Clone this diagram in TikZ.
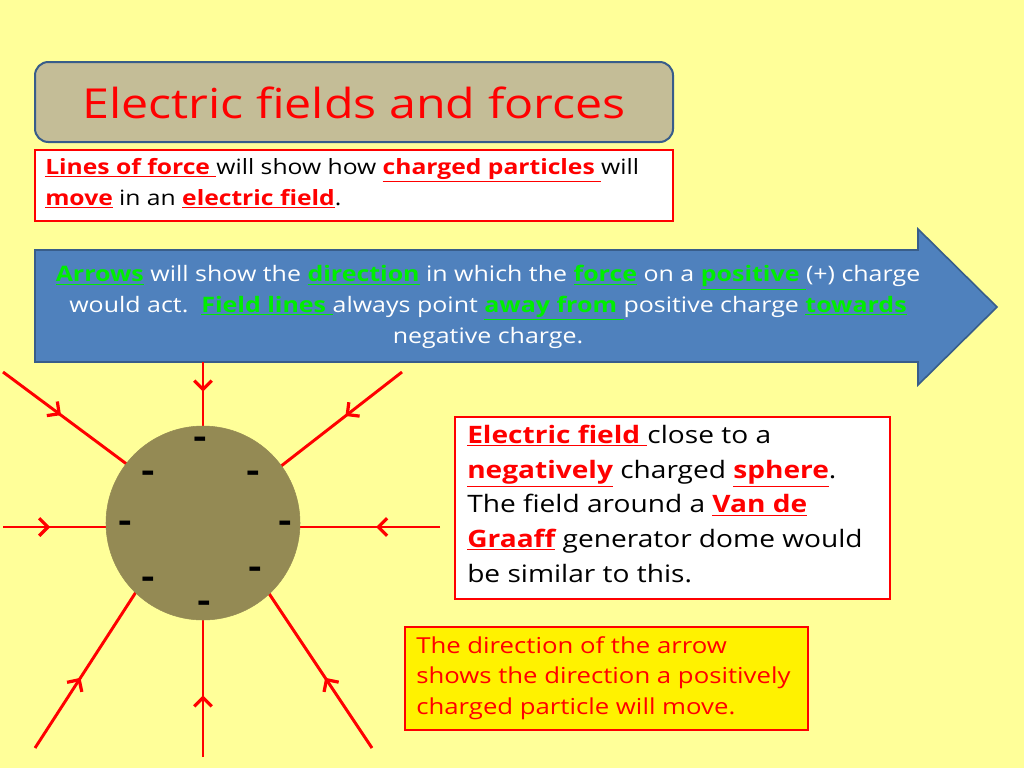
\documentclass[tikz,border=0pt]{standalone}
\usepackage{fontspec}
\setmainfont[FakeStretch=1.17]{Open Sans}
\usetikzlibrary{arrows.meta,decorations.markings}
\definecolor{bg}{HTML}{FFFF99}
\definecolor{tan}{HTML}{C4BD97}
\definecolor{frame}{HTML}{385D8A}
\definecolor{arrowblue}{HTML}{4F81BD}
\definecolor{olive}{HTML}{948A54}
\definecolor{gr}{HTML}{00EE00}
\newcommand{\rw}[1]{\textcolor{red}{\textbf{\underline{#1}}}}
\newcommand{\gw}[1]{\textcolor{gr}{\textbf{\underline{#1}}}}
\tikzset{
  fl/.style={red,line width=2.2pt,postaction={decorate},decoration={markings,mark=at position 0.45 with {\arrow[scale=1.1]{Straight Barb[length=6pt,width=12pt]}}}},
  minus/.style={font=\fontsize{26}{26}\selectfont\bfseries},
}
\begin{document}
\begin{tikzpicture}[x=0.75pt,y=-0.75pt]
\useasboundingbox (0,0) rectangle (1024,768);
\fill[bg] (0,0) rectangle (1024,768);
% title
\draw[frame,line width=1.5pt,fill=tan,rounded corners=10pt] (35,62) rectangle (673,142);
\node[red,font=\fontsize{31}{31}\selectfont] (title) at (354,103) {Electric fields and forces};
% box 1
\draw[red,line width=0.8pt,fill=white] (35,150) rectangle (673,221);
\node[anchor=north west,align=left,font=\fontsize{15.8}{23}\selectfont,inner sep=0pt] (b1) at (45,158)
 {\rw{Lines of force }will show how \rw{charged particles }will\\ \rw{move} in an \rw{electric field}.};
% big arrow
\draw[frame,line width=1.2pt,fill=arrowblue] (35,250) -- (918,250) -- (918,229) -- (997,307) -- (918,385) -- (918,362) -- (35,362) -- cycle;
\node[white,align=center,font=\fontsize{16}{23}\selectfont] (arr) at (488,307)
 {\gw{Arrows} will show the \gw{direction} in which the \gw{force} on a \gw{positive }(+) charge\\
 would act.\ \ \gw{Field lines }always point \gw{away from }positive charge \gw{towards}\\ negative charge.};
% field lines
\coordinate (c) at (203,523);
\draw[fl] (203,362) -- (203,428);
\draw[fl] (203,757) -- (203,620);
\draw[fl] (3,527) -- (108,527);
\draw[fl] (440,527) -- (298,527);
\draw[fl] (3,372) -- (132,468);
\draw[fl] (402,372) -- (276,470);
\draw[fl] (35,748) -- (136,592);
\draw[fl] (372,748) -- (268,592);
% sphere
\draw[fill=olive,draw=olive] (c) circle (97);
\foreach \x/\y [count=\i] in {200/443,148/477,253/477,125/527,285/527,148/583,255/573,204/607}
  \node[minus] (m\i) at (\x,\y) {-};
% box 2
\draw[red,line width=0.8pt,fill=white] (455,417) rectangle (890,599);
\node[anchor=north west,align=left,font=\fontsize{18}{26}\selectfont,inner sep=0pt] (b2) at (467,425)
 {\rw{Electric field }close to a\\ \rw{negatively} charged \rw{sphere}.\\ The field around a \rw{Van de}\\ \rw{Graaff} generator dome would\\ be similar to this.};
% box 3
\draw[red,line width=0.8pt,fill=yellow] (405,627) rectangle (808,730);
\node[anchor=north west,align=left,red,font=\fontsize{16.5}{23}\selectfont,inner sep=0pt] (b3) at (416,636)
 {The direction of the arrow\\ shows the direction a positively\\ charged particle will move.};
\end{tikzpicture}
\end{document}
